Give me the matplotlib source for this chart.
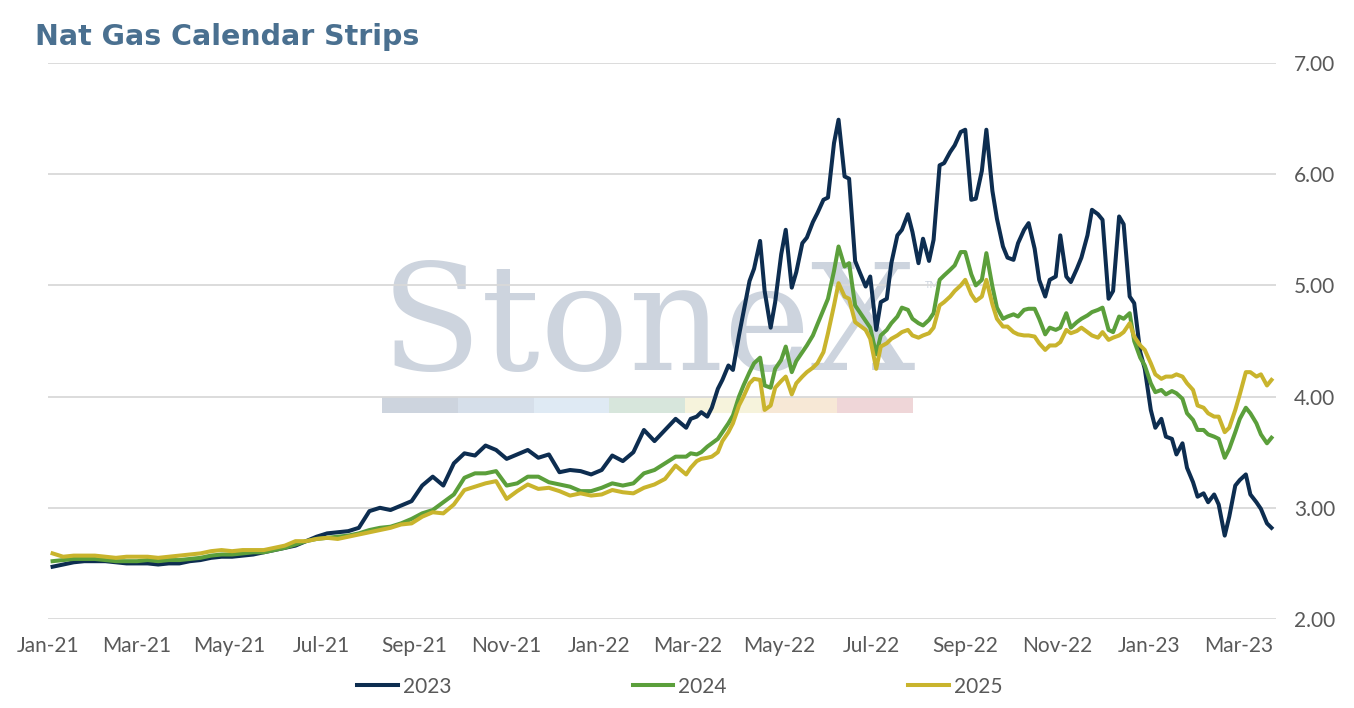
import pandas as pd
import matplotlib.pyplot as plt
import matplotlib.dates as mdates
from matplotlib.patches import Rectangle

# weekly closes through Feb-22, then twice a week (Mon/Thu)
weekly_dates = pd.date_range('2021-01-04', '2022-02-28', freq='7D')
twice_dates = pd.date_range('2022-03-03', '2023-03-23', freq='W-THU').union(
    pd.date_range('2022-03-07', '2023-03-20', freq='W-MON'))
dates = weekly_dates.append(twice_dates)

cal_2023_weekly = [2.47, 2.49, 2.51, 2.52, 2.52, 2.52, 2.51, 2.50, 2.50, 2.50,
                   2.49, 2.50, 2.50, 2.52, 2.53, 2.55, 2.56, 2.56, 2.57, 2.58,
                   2.60, 2.62, 2.64, 2.66, 2.70, 2.74, 2.77, 2.78, 2.79, 2.82,
                   2.97, 3.00, 2.98, 3.02, 3.06, 3.20, 3.28, 3.20, 3.40, 3.49,
                   3.47, 3.56, 3.52, 3.44, 3.48, 3.52, 3.45, 3.48, 3.32, 3.34,
                   3.33, 3.30, 3.34, 3.47, 3.42, 3.50, 3.70, 3.60, 3.70, 3.80,
                   3.72]
cal_2023_twice = [3.80, 3.82, 3.86, 3.82, 3.90, 4.07, 4.15, 4.28, 4.24, 4.55,
                  4.76, 5.04, 5.15, 5.40, 4.95, 4.62, 4.85, 5.28, 5.50, 4.98,
                  5.12, 5.38, 5.43, 5.57, 5.65, 5.77, 5.79, 6.28, 6.49, 5.98,
                  5.96, 5.22, 5.12, 4.99, 5.08, 4.60, 4.85, 4.88, 5.20, 5.45,
                  5.50, 5.64, 5.48, 5.20, 5.42, 5.22, 5.41, 6.08, 6.10, 6.20,
                  6.26, 6.38, 6.40, 5.77, 5.78, 6.03, 6.40, 5.85, 5.60, 5.35,
                  5.25, 5.23, 5.38, 5.50, 5.56, 5.33, 5.05, 4.90, 5.05, 5.08,
                  5.45, 5.08, 5.03, 5.15, 5.25, 5.45, 5.68, 5.64, 5.59, 4.88,
                  4.95, 5.62, 5.55, 4.90, 4.84, 4.40, 4.25, 3.88, 3.72, 3.80,
                  3.64, 3.62, 3.48, 3.58, 3.36, 3.23, 3.10, 3.13, 3.05, 3.12,
                  3.03, 2.75, 2.92, 3.20, 3.25, 3.30, 3.12, 3.05, 2.99, 2.86,
                  2.82]

cal_2024_weekly = [2.52, 2.53, 2.54, 2.54, 2.54, 2.53, 2.52, 2.52, 2.52, 2.53,
                   2.52, 2.53, 2.53, 2.54, 2.55, 2.57, 2.58, 2.58, 2.59, 2.60,
                   2.60, 2.62, 2.64, 2.67, 2.70, 2.72, 2.73, 2.74, 2.75, 2.77,
                   2.80, 2.82, 2.83, 2.86, 2.90, 2.95, 2.98, 3.05, 3.12, 3.27,
                   3.31, 3.31, 3.33, 3.20, 3.22, 3.28, 3.28, 3.23, 3.21, 3.19,
                   3.15, 3.15, 3.18, 3.22, 3.20, 3.22, 3.31, 3.34, 3.40, 3.46,
                   3.46]
cal_2024_twice = [3.49, 3.48, 3.50, 3.55, 3.58, 3.62, 3.68, 3.76, 3.83, 4.00,
                  4.10, 4.22, 4.30, 4.35, 4.10, 4.08, 4.25, 4.33, 4.45, 4.22,
                  4.32, 4.40, 4.46, 4.55, 4.65, 4.78, 4.88, 5.13, 5.35, 5.17,
                  5.20, 4.82, 4.76, 4.68, 4.62, 4.38, 4.55, 4.60, 4.66, 4.72,
                  4.80, 4.78, 4.70, 4.66, 4.64, 4.69, 4.75, 5.05, 5.09, 5.14,
                  5.18, 5.30, 5.30, 5.10, 5.00, 5.05, 5.29, 4.99, 4.80, 4.70,
                  4.72, 4.74, 4.72, 4.78, 4.79, 4.79, 4.70, 4.56, 4.62, 4.60,
                  4.62, 4.75, 4.62, 4.67, 4.70, 4.73, 4.76, 4.78, 4.80, 4.60,
                  4.58, 4.72, 4.70, 4.75, 4.50, 4.35, 4.28, 4.12, 4.04, 4.06,
                  4.02, 4.05, 4.03, 3.98, 3.85, 3.79, 3.70, 3.70, 3.66, 3.64,
                  3.62, 3.45, 3.53, 3.68, 3.80, 3.90, 3.85, 3.76, 3.66, 3.58,
                  3.63]

cal_2025_weekly = [2.59, 2.56, 2.57, 2.57, 2.57, 2.56, 2.55, 2.56, 2.56, 2.56,
                   2.55, 2.56, 2.57, 2.58, 2.59, 2.61, 2.62, 2.61, 2.62, 2.62,
                   2.62, 2.64, 2.66, 2.70, 2.70, 2.72, 2.73, 2.72, 2.74, 2.76,
                   2.78, 2.80, 2.82, 2.85, 2.86, 2.92, 2.96, 2.95, 3.03, 3.16,
                   3.19, 3.22, 3.24, 3.08, 3.15, 3.21, 3.17, 3.18, 3.15, 3.11,
                   3.13, 3.11, 3.12, 3.16, 3.14, 3.13, 3.18, 3.21, 3.26, 3.38,
                   3.30]
cal_2025_twice = [3.36, 3.42, 3.44, 3.45, 3.46, 3.50, 3.60, 3.68, 3.76, 3.92,
                  4.00, 4.12, 4.16, 4.15, 3.88, 3.92, 4.08, 4.14, 4.18, 4.02,
                  4.12, 4.18, 4.22, 4.26, 4.30, 4.40, 4.57, 4.82, 5.02, 4.90,
                  4.88, 4.67, 4.64, 4.60, 4.52, 4.25, 4.45, 4.48, 4.52, 4.55,
                  4.58, 4.60, 4.55, 4.53, 4.55, 4.57, 4.62, 4.82, 4.85, 4.90,
                  4.95, 5.00, 5.05, 4.92, 4.86, 4.90, 5.05, 4.83, 4.70, 4.63,
                  4.63, 4.58, 4.56, 4.55, 4.55, 4.54, 4.48, 4.42, 4.46, 4.46,
                  4.49, 4.60, 4.57, 4.59, 4.62, 4.58, 4.55, 4.53, 4.58, 4.51,
                  4.53, 4.55, 4.58, 4.66, 4.54, 4.46, 4.42, 4.30, 4.20, 4.16,
                  4.18, 4.18, 4.20, 4.18, 4.12, 4.06, 3.92, 3.90, 3.85, 3.82,
                  3.82, 3.68, 3.72, 3.88, 4.02, 4.22, 4.22, 4.18, 4.20, 4.10,
                  4.15]

series = {
    '2023': (cal_2023_weekly + cal_2023_twice, '#0d2d50'),
    '2024': (cal_2024_weekly + cal_2024_twice, '#5b9f3b'),
    '2025': (cal_2025_weekly + cal_2025_twice, '#c9b42d'),
}

plt.rcParams['font.family'] = ['Lato', 'DejaVu Sans']

fig = plt.figure(figsize=(13.54, 7.08), dpi=100)
ax = fig.add_axes([0.0355, 0.1257, 0.9069, 0.7853])

for name, (vals, color) in series.items():
    ax.plot(dates, vals, color=color, linewidth=2.9, label=name, zorder=3,
            solid_joinstyle='round')

ax.set_ylim(2, 7)
ax.set_xlim(pd.Timestamp('2021-01-01'), pd.Timestamp('2023-03-26'))
ax.set_yticks([2, 3, 4, 5, 6, 7])
ax.yaxis.set_major_formatter(plt.FuncFormatter(lambda v, p: f'{v:.2f}'))
ax.yaxis.tick_right()
ax.xaxis.set_major_locator(mdates.MonthLocator(bymonth=[1, 3, 5, 7, 9, 11]))
ax.xaxis.set_major_formatter(mdates.DateFormatter('%b-%y'))
ax.tick_params(axis='both', length=0, labelsize=15, colors='#595959')
ax.tick_params(axis='y', pad=13)
ax.tick_params(axis='x', pad=12)
ax.grid(axis='y', color='#d9d9d9', linewidth=1.3, zorder=0)
for s in ax.spines.values():
    s.set_visible(False)

# StoneX watermark
ax.text(0.4886, 0.448, 'StoneX', transform=ax.transAxes, ha='center', va='baseline',
        fontsize=106, family='DejaVu Serif', color='#cdd4de', zorder=1)
ax.text(0.72, 0.6, 'TM', transform=ax.transAxes, ha='center', va='center',
        fontsize=7, color='#cdd4de', zorder=1)
band = ['#cdd4de', '#d6dfea', '#dfeaf4', '#d7e6dc', '#f6f3dc', '#f7e8d6', '#efd6d8']
bx0, bx1 = 0.272, 0.704
w = (bx1 - bx0) / len(band)
for i, c in enumerate(band):
    ax.add_patch(Rectangle((bx0 + i * w, 0.3705), w, 0.0285, transform=ax.transAxes,
                           facecolor=c, edgecolor='none', zorder=1))

fig.text(0.026, 0.948, 'Nat Gas Calendar Strips', fontsize=20.5, fontweight='bold',
         family='DejaVu Sans', color='#4a7090', ha='left', va='center')

fig.legend(loc='center', bbox_to_anchor=(0.502, 0.03), ncol=3, frameon=False,
           fontsize=15, handlelength=1.95, columnspacing=8.7, handletextpad=0.25,
           labelcolor='#595959')

fig.savefig('out.png', dpi=100)
